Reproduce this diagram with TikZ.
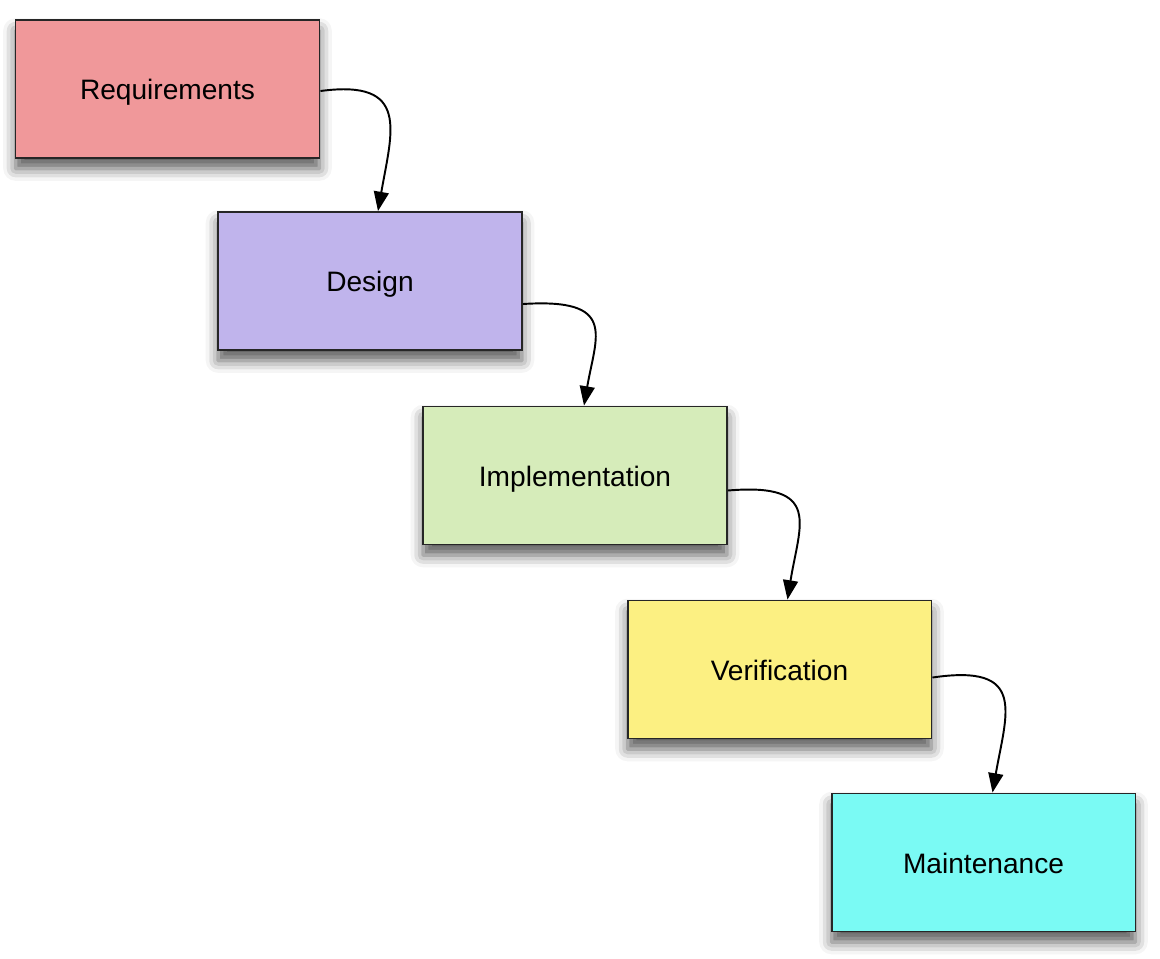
\documentclass[tikz,border=0pt]{standalone}
\usepackage{fontspec}
\setmainfont{Liberation Sans}
\usetikzlibrary{calc,arrows.meta,shadows.blur}

\definecolor{reqfill}{RGB}{240,152,154}
\definecolor{desfill}{RGB}{192,180,236}
\definecolor{impfill}{RGB}{214,236,186}
\definecolor{verfill}{RGB}{252,240,130}
\definecolor{maifill}{RGB}{122,250,244}

\tikzset{
	phase/.style={draw=black!85, line width=1.1pt, minimum width=6.08cm, minimum height=2.76cm,
		font=\fontsize{16}{19}\selectfont, inner sep=0pt, text height=14pt, text depth=1.5pt,
		blur shadow={shadow xshift=0pt, shadow yshift=-6pt, shadow blur radius=7pt, shadow opacity=65}},
	flow/.style={line width=1.1pt, -{Triangle[length=11pt,width=8.5pt]}}
}

\begin{document}
\begin{tikzpicture}[x=0.02cm, y=-0.02cm]
			%%%%% START %%%%%
			
			\useasboundingbox (0, 0) rectangle (1160, 958);
			
			\node[phase, fill=reqfill] (req) at (167.5, 89) {Requirements};
			\node[phase, fill=desfill] (des) at (370, 281) {Design};
			\node[phase, fill=impfill] (imp) at (575, 475.5) {Implementation};
			\node[phase, fill=verfill] (ver) at (779.5, 669.5) {Verification};
			\node[phase, fill=maifill] (mai) at (983.5, 862.5) {Maintenance};
			
			\draw[flow] ($(req.east)+(0, 2)$) .. controls +(90, -12) and +(14, -80) .. ($(des.north)+(8, 0)$);
			\draw[flow] ($(des.east)+(0, 23)$) .. controls +(95, -6) and +(12, -70) .. ($(imp.north)+(9, 0)$);
			\draw[flow] ($(imp.east)+(0, 15)$) .. controls +(95, -8) and +(12, -75) .. ($(ver.north)+(8, 0)$);
			\draw[flow] ($(ver.east)+(0, 8)$) .. controls +(95, -14) and +(14, -80) .. ($(mai.north)+(9, 0)$);
			
			%%%%% END %%%%%
\end{tikzpicture}
\end{document}
